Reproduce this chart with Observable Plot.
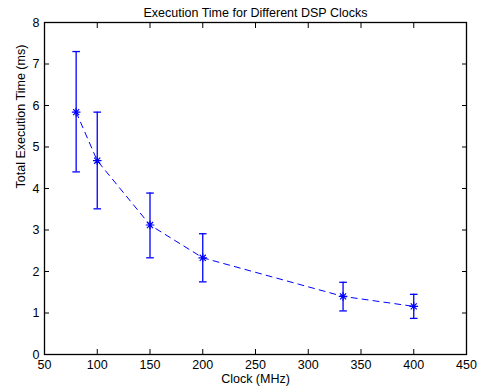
<!DOCTYPE html>
<html><head><meta charset="utf-8">
<script src="https://cdn.jsdelivr.net/npm/d3@7"></script>
<script src="https://cdn.jsdelivr.net/npm/@observablehq/plot@0.6"></script>
<style>body{margin:0;background:#fff}</style>
</head><body><div id="chart"></div>
<script>
const clocks = [80, 100, 150, 200, 333, 400];
const times  = [5.84, 4.67, 3.12, 2.33, 1.40, 1.16];
const lower  = [4.40, 3.51, 2.33, 1.75, 1.05, 0.87];
const upper  = [7.30, 5.84, 3.89, 2.91, 1.74, 1.45];
const xTicks = [50, 100, 150, 200, 250, 300, 350, 400, 450];
const yTicks = [0, 1, 2, 3, 4, 5, 6, 7, 8];
const title = "Execution Time for Different DSP Clocks";
const xLabel = "Clock (MHz)";
const yLabel = "Total Execution Time (ms)";

const data = clocks.map((c, i) => ({clock: c, time: times[i], lo: lower[i], hi: upper[i]}));
const blue = "#0000ff";
const capSymbol = {draw(ctx, size) { const w = Math.sqrt(size / Math.PI); ctx.moveTo(-w, 0); ctx.lineTo(w, 0); }};
const starSymbol = {draw(ctx, size) {
  const r = Math.sqrt(size / Math.PI), d = r * Math.SQRT1_2;
  ctx.moveTo(-r, 0); ctx.lineTo(r, 0);
  ctx.moveTo(0, -r); ctx.lineTo(0, r);
  ctx.moveTo(-d, -d); ctx.lineTo(d, d);
  ctx.moveTo(-d, d); ctx.lineTo(d, -d);
}};
const fs = 12.5;

const chart = Plot.plot({
  width: 482, height: 392,
  marginLeft: 44, marginRight: 16, marginTop: 22, marginBottom: 38,
  style: {fontFamily: "'Liberation Sans', Arial, sans-serif", fontSize: fs + "px", color: "black", background: "white"},
  x: {domain: [50, 450], ticks: xTicks},
  y: {domain: [0, 8], ticks: yTicks},
  marks: [
    Plot.axisX(xTicks, {anchor: "bottom", tickSize: -5, tickFormat: () => "", label: null}),
    Plot.axisX(xTicks, {anchor: "top", tickSize: -5, tickFormat: () => "", label: null}),
    Plot.axisY(yTicks, {anchor: "left", tickSize: -5, tickFormat: () => "", label: null}),
    Plot.axisY(yTicks, {anchor: "right", tickSize: -5, tickFormat: () => "", label: null}),
    Plot.axisX(xTicks, {anchor: "bottom", tickSize: 0, tickPadding: 6, label: null, fontSize: fs}),
    Plot.axisY(yTicks, {anchor: "left", tickSize: 0, tickPadding: 5, label: null, fontSize: fs}),
    Plot.frame({stroke: "black", strokeWidth: 1.3}),
    Plot.line(data, {x: "clock", y: "time", stroke: blue, strokeWidth: 1, strokeDasharray: "6,5"}),
    Plot.ruleX(data, {x: "clock", y1: "lo", y2: "hi", stroke: blue, strokeWidth: 1.3}),
    Plot.dot(data, {x: "clock", y: "lo", symbol: capSymbol, r: 3.8, stroke: blue, strokeWidth: 1.3}),
    Plot.dot(data, {x: "clock", y: "hi", symbol: capSymbol, r: 3.8, stroke: blue, strokeWidth: 1.3}),
    Plot.dot(data, {x: "clock", y: "time", symbol: starSymbol, r: 4.3, stroke: blue, strokeWidth: 1.2}),
    Plot.text([title], {frameAnchor: "top", dy: -14, fontSize: fs, fill: "black"}),
    Plot.text([xLabel], {frameAnchor: "bottom", dy: 28, fontSize: fs, fill: "black"}),
    Plot.text([yLabel], {frameAnchor: "left", dx: -24, rotate: -90, fontSize: fs, fill: "black"})
  ]
});
document.getElementById("chart").appendChild(chart);
</script>
</body></html>
